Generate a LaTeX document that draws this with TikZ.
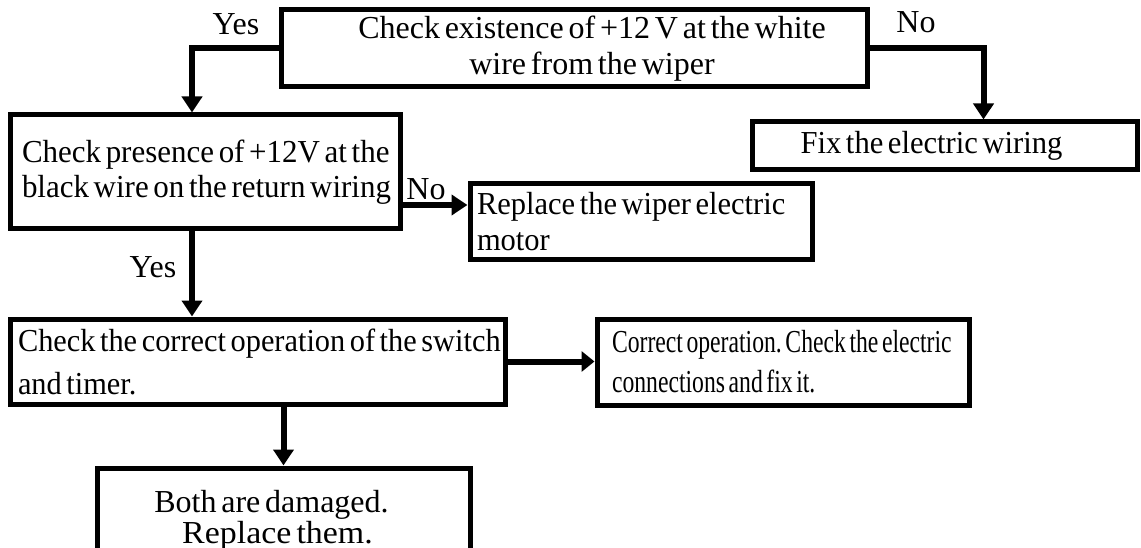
\documentclass[tikz,border=0pt]{standalone}
\usepackage{fontspec}
\setmainfont{Liberation Serif}[WordSpace=0.6]
\usetikzlibrary{arrows.meta}
% 32pt serif with a given leading and horizontal squeeze
\newcommand\boxfont[2]{\fontsize{32}{#1}\selectfont\addfontfeature{FakeStretch=#2}}
\begin{document}
\begin{tikzpicture}[x=1pt, y=-1pt,
  box/.style={draw, line width=5pt, inner sep=0pt, font=\boxfont{36}{1},
    execute at begin node={\spaceskip=0pt\xspaceskip=0pt\frenchspacing}},
  conn/.style={line width=6pt, -{Triangle[length=16pt, width=20pt]}},
  lbl/.style={anchor=base, inner sep=0pt, font=\fontsize{32}{36}\selectfont}]
\useasboundingbox (0,0) rectangle (1141,548);

% decision and action boxes
\node[box, minimum width=586pt, minimum height=77pt, align=center] (b1) at (574,48.5)
  {\hspace*{36pt}Check existence of +12 V at the white\\\hspace*{36pt}wire from the wiper};
\node[box, minimum width=390pt, minimum height=114pt, inner xsep=12pt, text width=366pt,
  align=left, font=\boxfont{35}{0.968}] (b2) at (205,172)
  {\mbox{Check presence of +12V at the}\\\mbox{black wire on the return wiring}};
\node[box, minimum width=342pt, minimum height=76pt, inner xsep=7pt, text width=328pt,
  align=left, font=\boxfont{36}{0.953}] (b3) at (641,222)
  {\mbox{Replace the wiper electric}\\motor};
\node[box, minimum width=385pt, minimum height=48pt, align=center,
  font=\boxfont{36}{0.956}] (b4) at (944.5,146)
  {\hspace*{-26pt}Fix the electric wiring};
\node[box, minimum width=495pt, minimum height=85pt, inner xsep=8pt, text width=479pt,
  align=left, font=\boxfont{43}{0.949}] (b5) at (257.5,361.5)
  {\mbox{Check the correct operation of the switch}\\and timer.};
\node[box, minimum width=372pt, minimum height=86pt, inner xsep=15pt, text width=342pt,
  align=left, font=\boxfont{40}{0.74}] (b6) at (783,362)
  {\mbox{Correct operation. Check the electric}\\connections and fix it.};
\node[box, minimum width=373pt, minimum height=104pt, align=center,
  font=\boxfont{31}{1}] (b7) at (283.5,520)
  {\hspace*{-24pt}Both are damaged.\\\hspace*{-12pt}{\addfontfeature{FakeStretch=1.06}Replace them.}};

% connectors
\draw[conn] (b1.west) -| ([xshift=-13pt]b2.north);
\draw[conn] (b1.east) -| ([xshift=39pt]b4.north);
\draw[conn] ([yshift=-33pt]b2.east) -- ([yshift=-33pt]b2.east -| b3.west);
\draw[conn] ([xshift=-13pt]b2.south) -- ([xshift=-13pt]b2.south |- b5.north);
\draw[conn, -{Triangle[length=13pt, width=20pt]}] (b5.east) -- (b5.east -| b6.west);
\draw[conn] (b7.north |- b5.south) -- (b7.north);

% branch labels
\node[lbl] (yes1) at (236,35) {Yes};
\node[lbl] (no1) at (916,33) {No};
\node[lbl] (no2) at (426,200) {No};
\node[lbl] (yes2) at (153,278) {Yes};
\end{tikzpicture}
\end{document}
